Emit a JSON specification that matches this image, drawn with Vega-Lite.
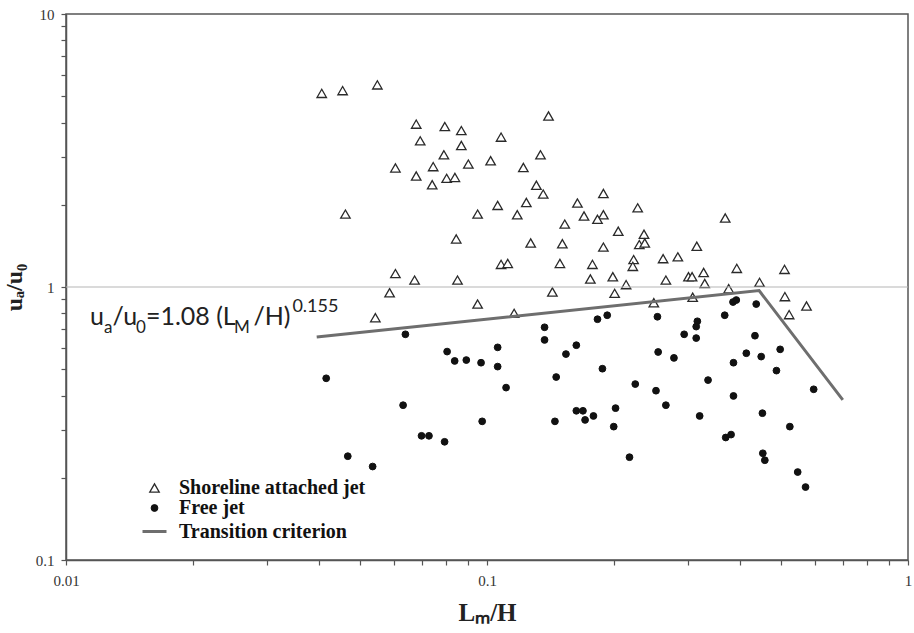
{
  "$schema": "https://vega.github.io/schema/vega-lite/v6.json",
  "width": 842,
  "height": 546,
  "autosize": {"type": "none"},
  "padding": {"left": 66, "top": 14, "right": 6, "bottom": 73},
  "background": "white",
  "config": {
    "view": {"stroke": "#555", "strokeWidth": 1.5},
    "axis": {
      "domainColor": "#555", "domainWidth": 1.5, "tickColor": "#555", "tickWidth": 1.2, "tickSize": 5,
      "labelFont": "Liberation Serif", "labelFontSize": 15, "labelColor": "#333",
      "titleFont": "Liberation Serif", "titleFontWeight": "bold", "titleColor": "#222",
      "grid": false, "labelFlush": false, "labelOverlap": false
    },
    "legend": {
      "padding": 0, "rowPadding": -2, "labelLimit": 400,
      "labelFont": "Liberation Serif", "labelFontWeight": "bold", "labelFontSize": 20, "labelColor": "#111",
      "labelOffset": 11
    }
  },
  "datasets": {
    "pts": [
      {"x": 0.0405, "y": 5.12, "series": "Shoreline attached jet"},
      {"x": 0.0454, "y": 5.24, "series": "Shoreline attached jet"},
      {"x": 0.0549, "y": 5.50, "series": "Shoreline attached jet"},
      {"x": 0.140, "y": 4.23, "series": "Shoreline attached jet"},
      {"x": 0.0679, "y": 3.95, "series": "Shoreline attached jet"},
      {"x": 0.0794, "y": 3.87, "series": "Shoreline attached jet"},
      {"x": 0.0869, "y": 3.74, "series": "Shoreline attached jet"},
      {"x": 0.108, "y": 3.54, "series": "Shoreline attached jet"},
      {"x": 0.0694, "y": 3.43, "series": "Shoreline attached jet"},
      {"x": 0.0869, "y": 3.30, "series": "Shoreline attached jet"},
      {"x": 0.0790, "y": 3.05, "series": "Shoreline attached jet"},
      {"x": 0.134, "y": 3.05, "series": "Shoreline attached jet"},
      {"x": 0.0606, "y": 2.73, "series": "Shoreline attached jet"},
      {"x": 0.0745, "y": 2.76, "series": "Shoreline attached jet"},
      {"x": 0.0903, "y": 2.82, "series": "Shoreline attached jet"},
      {"x": 0.102, "y": 2.90, "series": "Shoreline attached jet"},
      {"x": 0.122, "y": 2.74, "series": "Shoreline attached jet"},
      {"x": 0.0679, "y": 2.55, "series": "Shoreline attached jet"},
      {"x": 0.0802, "y": 2.50, "series": "Shoreline attached jet"},
      {"x": 0.0839, "y": 2.52, "series": "Shoreline attached jet"},
      {"x": 0.0741, "y": 2.37, "series": "Shoreline attached jet"},
      {"x": 0.131, "y": 2.36, "series": "Shoreline attached jet"},
      {"x": 0.136, "y": 2.19, "series": "Shoreline attached jet"},
      {"x": 0.164, "y": 2.03, "series": "Shoreline attached jet"},
      {"x": 0.0461, "y": 1.85, "series": "Shoreline attached jet"},
      {"x": 0.0950, "y": 1.85, "series": "Shoreline attached jet"},
      {"x": 0.106, "y": 1.99, "series": "Shoreline attached jet"},
      {"x": 0.124, "y": 2.04, "series": "Shoreline attached jet"},
      {"x": 0.118, "y": 1.84, "series": "Shoreline attached jet"},
      {"x": 0.170, "y": 1.82, "series": "Shoreline attached jet"},
      {"x": 0.153, "y": 1.70, "series": "Shoreline attached jet"},
      {"x": 0.0845, "y": 1.50, "series": "Shoreline attached jet"},
      {"x": 0.127, "y": 1.45, "series": "Shoreline attached jet"},
      {"x": 0.151, "y": 1.44, "series": "Shoreline attached jet"},
      {"x": 0.108, "y": 1.21, "series": "Shoreline attached jet"},
      {"x": 0.112, "y": 1.22, "series": "Shoreline attached jet"},
      {"x": 0.149, "y": 1.22, "series": "Shoreline attached jet"},
      {"x": 0.178, "y": 1.21, "series": "Shoreline attached jet"},
      {"x": 0.0606, "y": 1.12, "series": "Shoreline attached jet"},
      {"x": 0.0673, "y": 1.06, "series": "Shoreline attached jet"},
      {"x": 0.0851, "y": 1.06, "series": "Shoreline attached jet"},
      {"x": 0.176, "y": 1.07, "series": "Shoreline attached jet"},
      {"x": 0.0587, "y": 0.953, "series": "Shoreline attached jet"},
      {"x": 0.0543, "y": 0.772, "series": "Shoreline attached jet"},
      {"x": 0.0950, "y": 0.866, "series": "Shoreline attached jet"},
      {"x": 0.116, "y": 0.801, "series": "Shoreline attached jet"},
      {"x": 0.143, "y": 0.959, "series": "Shoreline attached jet"},
      {"x": 0.189, "y": 2.20, "series": "Shoreline attached jet"},
      {"x": 0.189, "y": 1.84, "series": "Shoreline attached jet"},
      {"x": 0.183, "y": 1.77, "series": "Shoreline attached jet"},
      {"x": 0.228, "y": 1.95, "series": "Shoreline attached jet"},
      {"x": 0.205, "y": 1.60, "series": "Shoreline attached jet"},
      {"x": 0.236, "y": 1.56, "series": "Shoreline attached jet"},
      {"x": 0.368, "y": 1.79, "series": "Shoreline attached jet"},
      {"x": 0.189, "y": 1.40, "series": "Shoreline attached jet"},
      {"x": 0.230, "y": 1.43, "series": "Shoreline attached jet"},
      {"x": 0.237, "y": 1.45, "series": "Shoreline attached jet"},
      {"x": 0.315, "y": 1.41, "series": "Shoreline attached jet"},
      {"x": 0.223, "y": 1.26, "series": "Shoreline attached jet"},
      {"x": 0.222, "y": 1.19, "series": "Shoreline attached jet"},
      {"x": 0.262, "y": 1.27, "series": "Shoreline attached jet"},
      {"x": 0.284, "y": 1.29, "series": "Shoreline attached jet"},
      {"x": 0.199, "y": 1.09, "series": "Shoreline attached jet"},
      {"x": 0.214, "y": 1.02, "series": "Shoreline attached jet"},
      {"x": 0.266, "y": 1.06, "series": "Shoreline attached jet"},
      {"x": 0.301, "y": 1.09, "series": "Shoreline attached jet"},
      {"x": 0.307, "y": 1.09, "series": "Shoreline attached jet"},
      {"x": 0.327, "y": 1.13, "series": "Shoreline attached jet"},
      {"x": 0.329, "y": 1.03, "series": "Shoreline attached jet"},
      {"x": 0.392, "y": 1.17, "series": "Shoreline attached jet"},
      {"x": 0.509, "y": 1.16, "series": "Shoreline attached jet"},
      {"x": 0.444, "y": 1.04, "series": "Shoreline attached jet"},
      {"x": 0.375, "y": 0.986, "series": "Shoreline attached jet"},
      {"x": 0.201, "y": 0.948, "series": "Shoreline attached jet"},
      {"x": 0.249, "y": 0.876, "series": "Shoreline attached jet"},
      {"x": 0.308, "y": 0.917, "series": "Shoreline attached jet"},
      {"x": 0.510, "y": 0.922, "series": "Shoreline attached jet"},
      {"x": 0.522, "y": 0.792, "series": "Shoreline attached jet"},
      {"x": 0.574, "y": 0.852, "series": "Shoreline attached jet"},
      {"x": 0.0640, "y": 0.671, "series": "Free jet"},
      {"x": 0.0415, "y": 0.463, "series": "Free jet"},
      {"x": 0.0804, "y": 0.580, "series": "Free jet"},
      {"x": 0.0838, "y": 0.536, "series": "Free jet"},
      {"x": 0.0893, "y": 0.540, "series": "Free jet"},
      {"x": 0.0968, "y": 0.528, "series": "Free jet"},
      {"x": 0.106, "y": 0.601, "series": "Free jet"},
      {"x": 0.106, "y": 0.511, "series": "Free jet"},
      {"x": 0.111, "y": 0.428, "series": "Free jet"},
      {"x": 0.0632, "y": 0.369, "series": "Free jet"},
      {"x": 0.0699, "y": 0.285, "series": "Free jet"},
      {"x": 0.0728, "y": 0.285, "series": "Free jet"},
      {"x": 0.0793, "y": 0.271, "series": "Free jet"},
      {"x": 0.0467, "y": 0.240, "series": "Free jet"},
      {"x": 0.0535, "y": 0.220, "series": "Free jet"},
      {"x": 0.0974, "y": 0.322, "series": "Free jet"},
      {"x": 0.137, "y": 0.712, "series": "Free jet"},
      {"x": 0.137, "y": 0.640, "series": "Free jet"},
      {"x": 0.154, "y": 0.568, "series": "Free jet"},
      {"x": 0.163, "y": 0.612, "series": "Free jet"},
      {"x": 0.146, "y": 0.468, "series": "Free jet"},
      {"x": 0.145, "y": 0.322, "series": "Free jet"},
      {"x": 0.163, "y": 0.352, "series": "Free jet"},
      {"x": 0.169, "y": 0.352, "series": "Free jet"},
      {"x": 0.171, "y": 0.326, "series": "Free jet"},
      {"x": 0.179, "y": 0.337, "series": "Free jet"},
      {"x": 0.183, "y": 0.762, "series": "Free jet"},
      {"x": 0.384, "y": 0.881, "series": "Free jet"},
      {"x": 0.391, "y": 0.896, "series": "Free jet"},
      {"x": 0.436, "y": 0.866, "series": "Free jet"},
      {"x": 0.193, "y": 0.788, "series": "Free jet"},
      {"x": 0.254, "y": 0.778, "series": "Free jet"},
      {"x": 0.316, "y": 0.749, "series": "Free jet"},
      {"x": 0.314, "y": 0.716, "series": "Free jet"},
      {"x": 0.367, "y": 0.788, "series": "Free jet"},
      {"x": 0.294, "y": 0.671, "series": "Free jet"},
      {"x": 0.314, "y": 0.650, "series": "Free jet"},
      {"x": 0.433, "y": 0.663, "series": "Free jet"},
      {"x": 0.255, "y": 0.578, "series": "Free jet"},
      {"x": 0.278, "y": 0.550, "series": "Free jet"},
      {"x": 0.413, "y": 0.572, "series": "Free jet"},
      {"x": 0.448, "y": 0.556, "series": "Free jet"},
      {"x": 0.497, "y": 0.591, "series": "Free jet"},
      {"x": 0.188, "y": 0.502, "series": "Free jet"},
      {"x": 0.385, "y": 0.528, "series": "Free jet"},
      {"x": 0.487, "y": 0.494, "series": "Free jet"},
      {"x": 0.225, "y": 0.441, "series": "Free jet"},
      {"x": 0.252, "y": 0.417, "series": "Free jet"},
      {"x": 0.335, "y": 0.456, "series": "Free jet"},
      {"x": 0.385, "y": 0.399, "series": "Free jet"},
      {"x": 0.597, "y": 0.422, "series": "Free jet"},
      {"x": 0.202, "y": 0.360, "series": "Free jet"},
      {"x": 0.266, "y": 0.369, "series": "Free jet"},
      {"x": 0.320, "y": 0.337, "series": "Free jet"},
      {"x": 0.451, "y": 0.345, "series": "Free jet"},
      {"x": 0.200, "y": 0.308, "series": "Free jet"},
      {"x": 0.524, "y": 0.308, "series": "Free jet"},
      {"x": 0.369, "y": 0.281, "series": "Free jet"},
      {"x": 0.380, "y": 0.288, "series": "Free jet"},
      {"x": 0.218, "y": 0.238, "series": "Free jet"},
      {"x": 0.452, "y": 0.246, "series": "Free jet"},
      {"x": 0.457, "y": 0.232, "series": "Free jet"},
      {"x": 0.547, "y": 0.210, "series": "Free jet"},
      {"x": 0.571, "y": 0.185, "series": "Free jet"}
    ],
    "crit": [
      {"x": 0.0394, "y": 0.656, "o": 1},
      {"x": 0.443, "y": 0.97, "o": 2},
      {"x": 0.70, "y": 0.386, "o": 3}
    ],
    "eqMain": [
      {"x": 0.01140, "y": 0.726, "label": "u"},
      {"x": 0.01290, "y": 0.726, "label": "/u"},
      {"x": 0.01548, "y": 0.726, "label": "=1.08 (L"},
      {"x": 0.02787, "y": 0.726, "label": "/H)"}
    ],
    "eqSub": [
      {"x": 0.01231, "y": 0.678, "label": "a"},
      {"x": 0.01466, "y": 0.678, "label": "0"},
      {"x": 0.02508, "y": 0.678, "label": "M"}
    ],
    "eqSup": [
      {"x": 0.0345, "y": 0.810, "label": "0.155"}
    ]
  },
  "layer": [
    {
      "data": {"name": "pts"},
      "mark": {"type": "point", "filled": true, "opacity": 1},
      "encoding": {
        "x": {"field": "x", "type": "quantitative", "title": "Lₘ/H",
          "scale": {"type": "log", "domain": [0.01, 1]},
          "axis": {"values": [0.01, 0.02, 0.03, 0.04, 0.05, 0.06, 0.07, 0.08, 0.09, 0.1, 0.2, 0.3, 0.4, 0.5, 0.6, 0.7, 0.8, 0.9, 1],
            "format": "~g", "labelExpr": "datum.value == 0.01 || datum.value == 0.1 || datum.value == 1 ? datum.label : ''",
            "labelPadding": 8, "titlePadding": 12, "titleFontSize": 25}},
        "y": {"field": "y", "type": "quantitative", "title": "uₐ/u₀",
          "scale": {"type": "log", "domain": [0.1, 10]},
          "axis": {"values": [0.1, 0.2, 0.3, 0.4, 0.5, 0.6, 0.7, 0.8, 0.9, 1, 2, 3, 4, 5, 6, 7, 8, 9, 10],
            "format": "~g", "labelExpr": "datum.value == 0.1 || datum.value == 1 || datum.value == 10 ? datum.label : ''",
            "labelPadding": 7, "titlePadding": 9, "titleFontSize": 24}},
        "shape": {"field": "series", "type": "nominal", "title": null,
          "scale": {"type": "ordinal", "domain": ["Shoreline attached jet", "Free jet", "Transition criterion"], "range": ["triangle-up", "circle", "stroke"]},
          "legend": {"orient": "none", "legendX": 75, "legendY": 464}},
        "size": {"field": "series", "type": "nominal", "title": null,
          "scale": {"type": "ordinal", "domain": ["Shoreline attached jet", "Free jet", "Transition criterion"], "range": [90, 46, 576]},
          "legend": {"orient": "none", "legendX": 75, "legendY": 464}},
        "strokeWidth": {"field": "series", "type": "nominal", "title": null,
          "scale": {"type": "ordinal", "domain": ["Shoreline attached jet", "Free jet", "Transition criterion"], "range": [1.3, 1, 3]},
          "legend": {"orient": "none", "legendX": 75, "legendY": 464}},
        "fill": {"field": "series", "type": "nominal", "title": null,
          "scale": {"type": "ordinal", "domain": ["Shoreline attached jet", "Free jet", "Transition criterion"], "range": ["white", "#111111", "transparent"]},
          "legend": {"orient": "none", "legendX": 75, "legendY": 464}},
        "stroke": {"field": "series", "type": "nominal", "title": null,
          "scale": {"type": "ordinal", "domain": ["Shoreline attached jet", "Free jet", "Transition criterion"], "range": ["#2a2a2a", "#111111", "#6e6e6e"]},
          "legend": {"orient": "none", "legendX": 75, "legendY": 464}}
      }
    },
    {
      "data": {"values": [{"v": 1}]},
      "mark": {"type": "rule", "color": "#b5b5b5", "strokeWidth": 1.2},
      "encoding": {
        "y": {"field": "v", "type": "quantitative", "title": "uₐ/u₀", "scale": {"type": "log", "domain": [0.1, 10]}}
      }
    },
    {
      "data": {"name": "crit"},
      "mark": {"type": "line", "color": "#6e6e6e", "strokeWidth": 3},
      "encoding": {
        "x": {"field": "x", "type": "quantitative", "title": "Lₘ/H", "scale": {"type": "log", "domain": [0.01, 1]}},
        "y": {"field": "y", "type": "quantitative", "title": "uₐ/u₀", "scale": {"type": "log", "domain": [0.1, 10]}},
        "order": {"field": "o"}
      }
    },
    {
      "data": {"name": "eqMain"},
      "mark": {"type": "text", "font": "Lato", "fontSize": 25, "align": "left", "baseline": "alphabetic", "color": "#222"},
      "encoding": {
        "x": {"field": "x", "type": "quantitative", "title": "Lₘ/H", "scale": {"type": "log", "domain": [0.01, 1]}},
        "y": {"field": "y", "type": "quantitative", "title": "uₐ/u₀", "scale": {"type": "log", "domain": [0.1, 10]}},
        "text": {"field": "label"}
      }
    },
    {
      "data": {"name": "eqSub"},
      "mark": {"type": "text", "font": "Lato", "fontSize": 17, "align": "left", "baseline": "alphabetic", "color": "#222"},
      "encoding": {
        "x": {"field": "x", "type": "quantitative", "title": "Lₘ/H", "scale": {"type": "log", "domain": [0.01, 1]}},
        "y": {"field": "y", "type": "quantitative", "title": "uₐ/u₀", "scale": {"type": "log", "domain": [0.1, 10]}},
        "text": {"field": "label"}
      }
    },
    {
      "data": {"name": "eqSup"},
      "mark": {"type": "text", "font": "Lato", "fontSize": 18, "align": "left", "baseline": "alphabetic", "color": "#222"},
      "encoding": {
        "x": {"field": "x", "type": "quantitative", "title": "Lₘ/H", "scale": {"type": "log", "domain": [0.01, 1]}},
        "y": {"field": "y", "type": "quantitative", "title": "uₐ/u₀", "scale": {"type": "log", "domain": [0.1, 10]}},
        "text": {"field": "label"}
      }
    }
  ]
}
